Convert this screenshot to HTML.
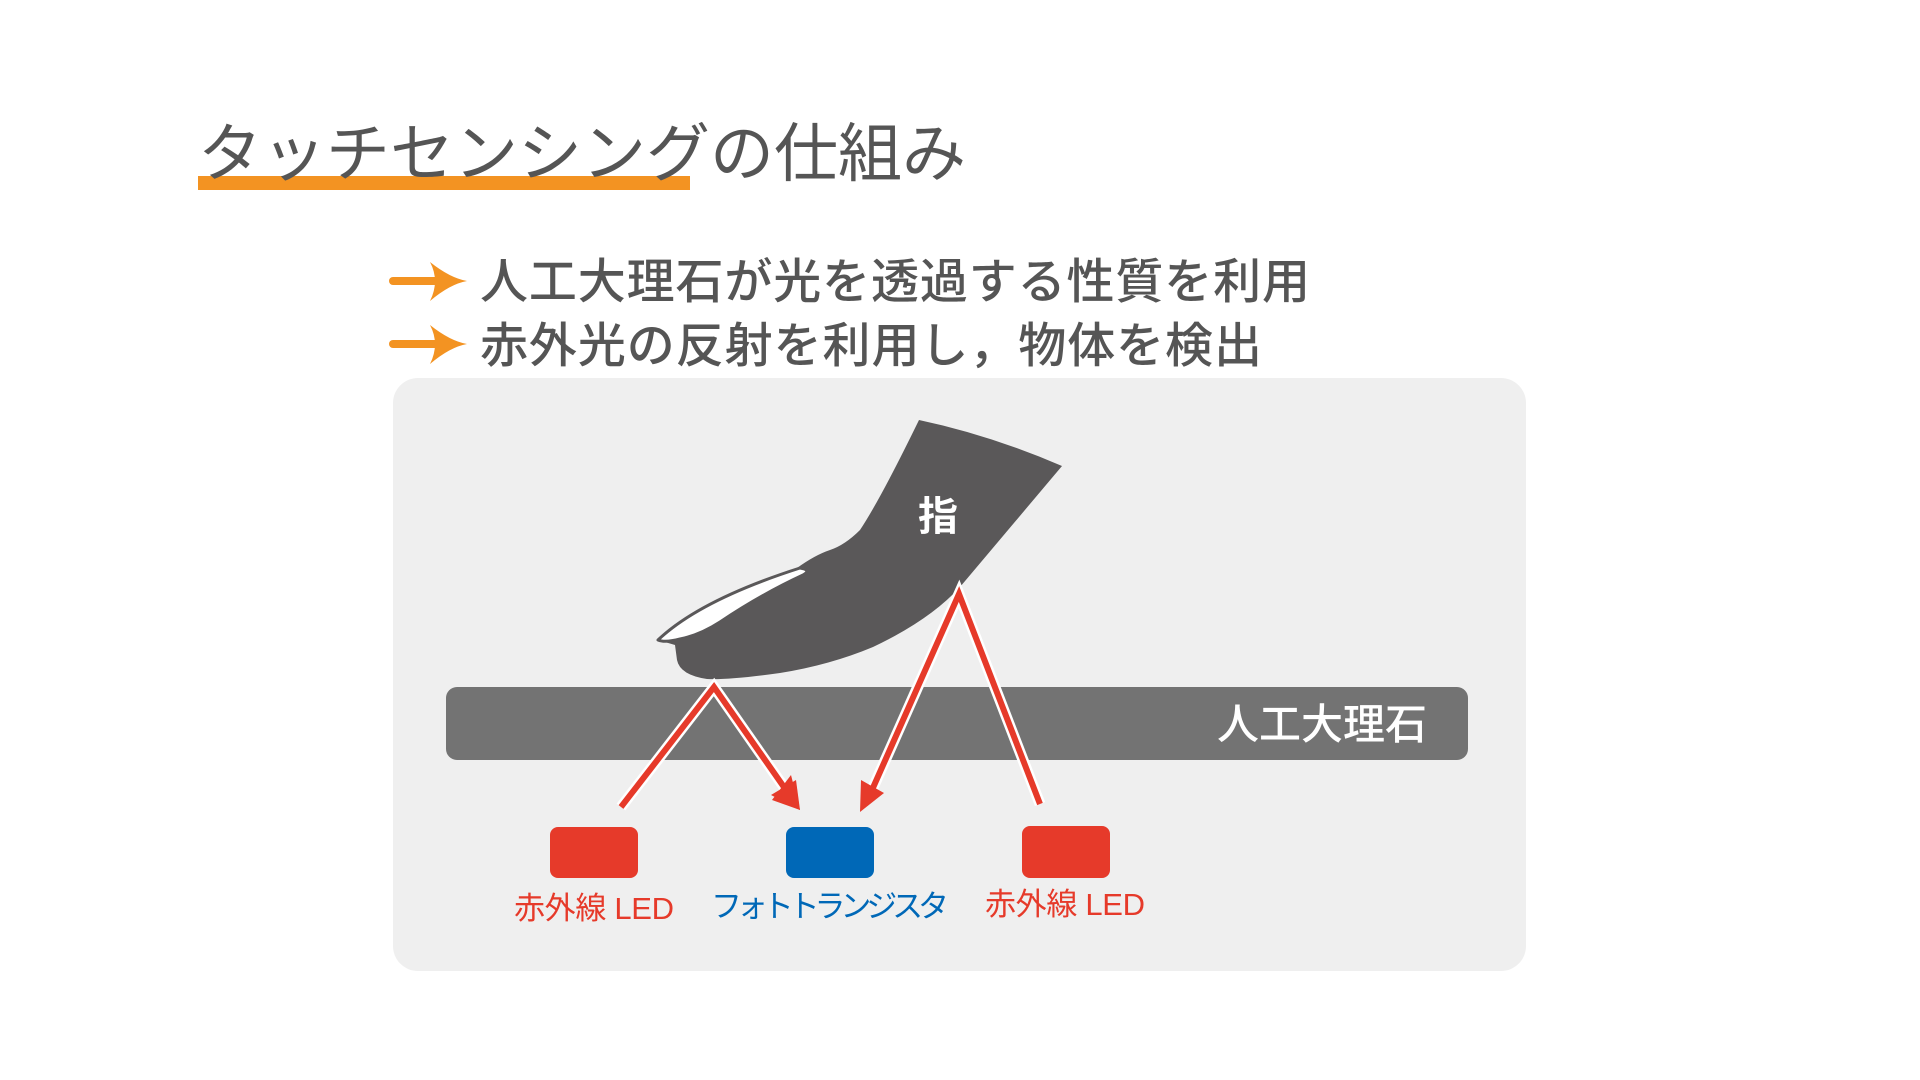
<!DOCTYPE html>
<html><head><meta charset="utf-8"><style>
html,body{margin:0;padding:0;background:#fff;}
body{width:1920px;height:1080px;overflow:hidden;position:relative;font-family:"Liberation Sans","Noto Sans CJK JP",sans-serif;}
</style></head><body>
<svg width="1920" height="1080" viewBox="0 0 1920 1080" xmlns="http://www.w3.org/2000/svg" style="position:absolute;left:0;top:0">
<rect x="198" y="176" width="492" height="14" fill="#f39322"/>
<text x="198" y="176" font-size="64" fill="#555" font-family="'Liberation Sans','Noto Sans CJK JP',sans-serif" font-weight="400" textLength="768">タッチセンシングの仕組み</text>
<g fill="#f39322">
<line x1="393" y1="281" x2="450" y2="281" stroke="#f39322" stroke-width="8" stroke-linecap="round"/>
<path d="M430 262 Q450 278 467 281 Q450 284 430 301 Q440 281 430 262Z"/>
<line x1="393" y1="344" x2="450" y2="344" stroke="#f39322" stroke-width="8" stroke-linecap="round"/>
<path d="M430 325 Q450 341 467 344 Q450 347 430 364 Q440 344 430 325Z"/>
</g>
<g font-size="48" fill="#555" font-weight="500" font-family="'Liberation Sans','Noto Sans CJK JP',sans-serif">
<text x="480" y="298" textLength="830">人工大理石が光を透過する性質を利用</text>
<text x="480" y="362" textLength="782">赤外光の反射を利用し，物体を検出</text>
</g>
<rect x="393" y="378" width="1133" height="593" rx="25" fill="#efefef"/>
<rect x="446" y="687" width="1022" height="73" rx="11" fill="#737373"/>
<text x="1427" y="739" text-anchor="end" font-size="42" font-weight="500" fill="#fff" font-family="'Liberation Sans','Noto Sans CJK JP',sans-serif">人工大理石</text>
<path d="M919 420 Q990 435 1062 466 L960 587 Q930 620 873 647 Q830 665 780 673 Q730 680 707 679 Q680 675 677 660 L675 645 L658 640 Q700 600 797 568 Q815 555 830 550 Q845 545 860 530 Q880 500 919 420Z" fill="#5a5859"/>
<path d="M658 640 Q700 600 800 568 Q812 570 803 575 Q760 595 720 622 Q700 635 680 639 Q665 643 658 640Z" fill="#fff" stroke="#5a5859" stroke-width="3" stroke-linejoin="round"/>
<text x="938" y="530" text-anchor="middle" font-size="40" font-weight="700" fill="#fff" font-family="'Liberation Sans','Noto Sans CJK JP',sans-serif">指</text>
<g fill="none" stroke-linejoin="miter" stroke-linecap="butt">
<polyline points="621,807 714,687 786,790" stroke="#fff" stroke-width="11"/>
<polyline points="1040,804 959,594 872,790" stroke="#fff" stroke-width="11"/>
<polyline points="621,807 714,687 786,790" stroke="#e63a2a" stroke-width="6"/>
<polyline points="1040,804 959,594 872,790" stroke="#e63a2a" stroke-width="6"/>
</g>
<path d="M800 810 L771 795 L796 780Z" fill="#e63a2a"/>
<path d="M800 810 L772 800 L791 775Z" fill="#e63a2a"/>
<path d="M860 812 L861 780 L884 793Z" fill="#e63a2a"/>
<rect x="550" y="827" width="88" height="51" rx="8" fill="#e63a2a"/>
<rect x="786" y="827" width="88" height="51" rx="8" fill="#0068b7"/>
<rect x="1022" y="826" width="88" height="52" rx="8" fill="#e63a2a"/>
<g font-size="31" font-family="'Liberation Sans','Noto Sans CJK JP',sans-serif">
<text x="514" y="919" fill="#e63a2a" textLength="160">赤外線 LED</text>
<text x="711" y="917" fill="#0068b7" textLength="238">フォトトランジスタ</text>
<text x="985" y="915" fill="#e63a2a" textLength="160">赤外線 LED</text>
</g>
</svg>
</body></html>
